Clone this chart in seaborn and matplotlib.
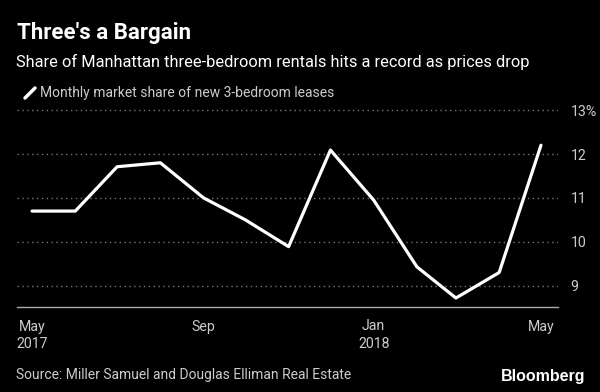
import numpy as np
import pandas as pd
import matplotlib
matplotlib.use("Agg")
import matplotlib.pyplot as plt
from matplotlib.lines import Line2D
import seaborn as sns

months = ["2017-05-01", "2017-06-01", "2017-07-01", "2017-08-01", "2017-09-01",
          "2017-10-01", "2017-11-01", "2017-12-01", "2018-01-01", "2018-02-01",
          "2018-03-01", "2018-04-01", "2018-05-01"]
share = [10.7, 10.7, 11.71, 11.8, 11.0, 10.5, 9.89, 12.09, 10.95, 9.43, 8.72, 9.3, 12.2]
ytick_vals = [9, 10, 11, 12, 13]
ytick_labels = ["9", "10", "11", "12", "13%"]
xtick_dates = ["2017-05-01", "2017-09-01", "2018-01-01", "2018-05-01"]
xtick_labels = ["May\n2017", "Sep", "Jan\n2018", "May"]

df = pd.DataFrame({"month": pd.to_datetime(months), "share": share})

sns.set_style("dark", {"axes.facecolor": "black", "figure.facecolor": "black"})
FONT = ["Roboto", "DejaVu Sans"]
plt.rcParams["font.family"] = FONT

fig = plt.figure(figsize=(6, 3.92), dpi=100)
fig.patch.set_facecolor("black")
ax = fig.add_axes([17 / 600, 1 - 307 / 392, 541 / 600, 207 / 392])
ax.set_facecolor("black")

for v in ytick_vals:
    ax.axhline(v, color="#777777", lw=1, linestyle=(0, (1, 2.5)), zorder=1)

sns.lineplot(data=df, x="month", y="share", color="white", lw=2.3, ax=ax, zorder=3)

ax.set_ylim(8.515, 13.23)
ax.set_xlim(pd.Timestamp("2017-05-01") - pd.Timedelta(days=10.8),
            pd.Timestamp("2018-05-01") + pd.Timedelta(days=12.2))

ax.yaxis.tick_right()
ax.set_yticks(ytick_vals)
ax.set_yticklabels(ytick_labels, color="#cccccc", fontsize=10.2)
ax.tick_params(axis="y", length=0, pad=9)
for lbl in ax.get_yticklabels():
    lbl.set_horizontalalignment("left")

ax.set_xticks(pd.to_datetime(xtick_dates))
ax.set_xticklabels(xtick_labels, color="#cccccc", fontsize=10.2, linespacing=1.3)
ax.tick_params(axis="x", length=4, color="#aaaaaa", direction="out", pad=5)

for s in ["top", "left", "right"]:
    ax.spines[s].set_visible(False)
ax.spines["bottom"].set_color("#aaaaaa")
ax.spines["bottom"].set_linewidth(1)
ax.set_xlabel("")
ax.set_ylabel("")
ax.grid(False)

fig.text(17 / 600, 1 - 33 / 392, "Three's a Bargain", color="white",
         fontsize=16, fontweight="bold", va="center")
fig.text(16 / 600, 1 - 62 / 392,
         "Share of Manhattan three-bedroom rentals hits a record as prices drop",
         color="white", fontsize=11.75, va="center")
fig.add_artist(Line2D([25 / 600, 35 / 600], [1 - 98 / 392, 1 - 88 / 392],
                      color="white", lw=2.5, transform=fig.transFigure))
fig.text(40 / 600, 1 - 93 / 392, "Monthly market share of new 3-bedroom leases",
         color="#cccccc", fontsize=10, va="center")
fig.text(16 / 600, 1 - 375 / 392,
         "Source: Miller Samuel and Douglas Elliman Real Estate",
         color="#cccccc", fontsize=10, va="center")
fig.text(585 / 600, 1 - 377 / 392, "Bloomberg", color="white", fontsize=11.5,
         fontweight="bold", ha="right", va="center",
         family=["Liberation Sans", "DejaVu Sans"])

fig.savefig("out.png", dpi=100, facecolor="black")
